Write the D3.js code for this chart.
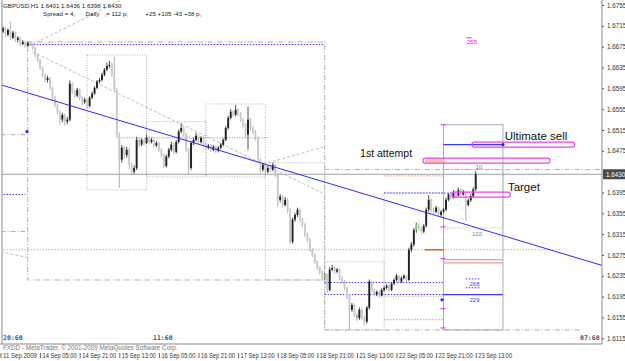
<!DOCTYPE html>
<html>
<head>
<meta charset="utf-8">
<script src="https://cdn.jsdelivr.net/npm/d3@7"></script>
<style>
  body { margin: 0; background: #ffffff; }
  svg { display: block; font-family: "Liberation Sans", Arial, sans-serif; }
</style>
</head>
<body>
<script>
// ---- chart data: GBPUSD H1, one bar per hour, 11 Sep 13:00 .. 23 Sep 13:00
let open = [1.6707,1.6704,1.6711,1.6698,1.6707,1.6692,1.6702,1.6688,1.6692,1.6680,
  1.6684,1.6677,1.6682,1.6679,1.6673,1.6659,1.6650,1.6634,1.6621,1.6611,
  1.6615,1.6596,1.6577,1.6563,1.6550,1.6535,1.6544,1.6531,1.6535,1.6604,
  1.6588,1.6581,1.6592,1.6577,1.6569,1.6573,1.6561,1.6577,1.6585,1.6596,
  1.6608,1.6611,1.6621,1.6631,1.6638,1.6640,1.6621,1.6592,1.6506,1.6458,
  1.6481,1.6467,1.6477,1.6448,1.6435,1.6442,1.6496,1.6487,1.6496,1.6490,
  1.6500,1.6492,1.6496,1.6485,1.6490,1.6477,1.6467,1.6446,1.6464,1.6477,
  1.6487,1.6473,1.6492,1.6512,1.6519,1.6506,1.6477,1.6442,1.6490,1.6496,
  1.6504,1.6492,1.6500,1.6487,1.6481,1.6485,1.6477,1.6483,1.6475,1.6481,
  1.6487,1.6496,1.6519,1.6538,1.6550,1.6544,1.6554,1.6546,1.6535,1.6525,
  1.6506,1.6535,1.6519,1.6512,1.6500,1.6458,1.6439,1.6448,1.6435,1.6442,
  1.6439,1.6448,1.6429,1.6381,1.6387,1.6371,1.6381,1.6362,1.6300,1.6343,
  1.6352,1.6362,1.6343,1.6333,1.6314,1.6304,1.6285,1.6275,1.6262,1.6250,
  1.6243,1.6231,1.6237,1.6208,1.6247,1.6250,1.6243,1.6247,1.6231,1.6224,
  1.6212,1.6197,1.6170,1.6179,1.6160,1.6154,1.6170,1.6154,1.6147,1.6174,
  1.6224,1.6208,1.6199,1.6204,1.6197,1.6208,1.6212,1.6216,1.6208,1.6220,
  1.6227,1.6235,1.6224,1.6231,1.6235,1.6227,1.6285,1.6295,1.6323,1.6333,
  1.6327,1.6320,1.6331,1.6362,1.6381,1.6362,1.6358,1.6366,1.6352,1.6358,
  1.6362,1.6381,1.6391,1.6385,1.6396,1.6389,1.6400,1.6391,1.6396,1.6371,
  1.6380,1.6388,1.6401];
let high = [1.6716,1.6714,1.6713,1.6710,1.6723,1.6705,1.6704,1.6695,1.6694,1.6688,
  1.6686,1.6685,1.6684,1.6681,1.6675,1.6662,1.6652,1.6637,1.6624,1.6619,
  1.6617,1.6598,1.6580,1.6566,1.6553,1.6548,1.6546,1.6540,1.6610,1.6607,
  1.6592,1.6596,1.6594,1.6580,1.6577,1.6575,1.6580,1.6589,1.6599,1.6611,
  1.6615,1.6625,1.6634,1.6644,1.6648,1.6645,1.6656,1.6596,1.6510,1.6486,
  1.6485,1.6483,1.6480,1.6452,1.6447,1.6502,1.6500,1.6499,1.6498,1.6506,
  1.6503,1.6500,1.6498,1.6494,1.6492,1.6480,1.6470,1.6468,1.6481,1.6492,
  1.6490,1.6496,1.6516,1.6528,1.6522,1.6509,1.6480,1.6494,1.6500,1.6510,
  1.6506,1.6503,1.6502,1.6490,1.6488,1.6487,1.6486,1.6485,1.6484,1.6490,
  1.6499,1.6522,1.6542,1.6555,1.6553,1.6563,1.6557,1.6549,1.6538,1.6528,
  1.6560,1.6538,1.6522,1.6515,1.6502,1.6461,1.6452,1.6451,1.6446,1.6448,
  1.6452,1.6450,1.6432,1.6392,1.6390,1.6386,1.6384,1.6365,1.6347,1.6356,
  1.6366,1.6364,1.6346,1.6336,1.6318,1.6307,1.6288,1.6278,1.6265,1.6253,
  1.6246,1.6240,1.6240,1.6251,1.6256,1.6253,1.6250,1.6249,1.6234,1.6227,
  1.6214,1.6200,1.6183,1.6182,1.6163,1.6174,1.6172,1.6158,1.6177,1.6228,
  1.6226,1.6211,1.6207,1.6206,1.6211,1.6215,1.6219,1.6218,1.6223,1.6230,
  1.6239,1.6237,1.6234,1.6238,1.6237,1.6289,1.6300,1.6327,1.6337,1.6336,
  1.6330,1.6334,1.6366,1.6390,1.6384,1.6366,1.6369,1.6368,1.6361,1.6365,
  1.6385,1.6394,1.6394,1.6400,1.6398,1.6404,1.6402,1.6400,1.6398,1.6383,
  1.6392,1.6405,1.6436];
let low = [1.6700,1.6701,1.6694,1.6695,1.6688,1.6690,1.6684,1.6683,1.6676,1.6678,
  1.6673,1.6675,1.6676,1.6669,1.6655,1.6646,1.6630,1.6617,1.6607,1.6606,
  1.6592,1.6572,1.6558,1.6545,1.6525,1.6530,1.6523,1.6526,1.6532,1.6584,
  1.6577,1.6578,1.6573,1.6562,1.6565,1.6556,1.6558,1.6574,1.6582,1.6593,
  1.6604,1.6608,1.6618,1.6628,1.6634,1.6617,1.6588,1.6500,1.6404,1.6452,
  1.6460,1.6462,1.6440,1.6428,1.6430,1.6438,1.6482,1.6484,1.6486,1.6488,
  1.6488,1.6489,1.6481,1.6482,1.6472,1.6462,1.6442,1.6443,1.6461,1.6474,
  1.6469,1.6470,1.6489,1.6509,1.6502,1.6472,1.6429,1.6438,1.6486,1.6493,
  1.6488,1.6489,1.6483,1.6477,1.6478,1.6473,1.6474,1.6471,1.6472,1.6478,
  1.6484,1.6494,1.6516,1.6535,1.6540,1.6541,1.6542,1.6531,1.6520,1.6500,
  1.6477,1.6514,1.6507,1.6495,1.6452,1.6433,1.6435,1.6430,1.6432,1.6434,
  1.6436,1.6425,1.6368,1.6376,1.6366,1.6368,1.6356,1.6296,1.6297,1.6339,
  1.6348,1.6339,1.6329,1.6310,1.6300,1.6281,1.6271,1.6258,1.6246,1.6238,
  1.6227,1.6228,1.6202,1.6205,1.6244,1.6239,1.6240,1.6227,1.6220,1.6208,
  1.6190,1.6131,1.6166,1.6156,1.6148,1.6150,1.6150,1.6140,1.6143,1.6170,
  1.6204,1.6195,1.6196,1.6193,1.6195,1.6205,1.6209,1.6205,1.6206,1.6217,
  1.6224,1.6221,1.6221,1.6228,1.6224,1.6225,1.6280,1.6291,1.6318,1.6322,
  1.6316,1.6317,1.6328,1.6358,1.6358,1.6354,1.6355,1.6349,1.6348,1.6355,
  1.6359,1.6378,1.6381,1.6383,1.6385,1.6387,1.6388,1.6389,1.6340,1.6368,
  1.6377,1.6385,1.6398];
let close = [1.6704,1.6711,1.6698,1.6707,1.6692,1.6702,1.6688,1.6692,1.6680,1.6684,
  1.6677,1.6682,1.6679,1.6673,1.6659,1.6650,1.6634,1.6621,1.6611,1.6615,
  1.6596,1.6577,1.6563,1.6550,1.6535,1.6544,1.6531,1.6535,1.6604,1.6588,
  1.6581,1.6592,1.6577,1.6569,1.6573,1.6561,1.6577,1.6585,1.6596,1.6608,
  1.6611,1.6621,1.6631,1.6638,1.6640,1.6621,1.6592,1.6506,1.6458,1.6481,
  1.6467,1.6477,1.6448,1.6435,1.6442,1.6496,1.6487,1.6496,1.6490,1.6500,
  1.6492,1.6496,1.6485,1.6490,1.6477,1.6467,1.6446,1.6464,1.6477,1.6487,
  1.6473,1.6492,1.6512,1.6519,1.6506,1.6477,1.6442,1.6490,1.6496,1.6504,
  1.6492,1.6500,1.6487,1.6481,1.6485,1.6477,1.6483,1.6475,1.6481,1.6487,
  1.6496,1.6519,1.6538,1.6550,1.6544,1.6554,1.6546,1.6535,1.6525,1.6506,
  1.6535,1.6519,1.6512,1.6500,1.6458,1.6439,1.6448,1.6435,1.6442,1.6439,
  1.6448,1.6429,1.6381,1.6387,1.6371,1.6381,1.6362,1.6300,1.6343,1.6352,
  1.6362,1.6343,1.6333,1.6314,1.6304,1.6285,1.6275,1.6262,1.6250,1.6243,
  1.6231,1.6237,1.6208,1.6247,1.6250,1.6243,1.6247,1.6231,1.6224,1.6212,
  1.6197,1.6170,1.6179,1.6160,1.6154,1.6170,1.6154,1.6147,1.6174,1.6224,
  1.6208,1.6199,1.6204,1.6197,1.6208,1.6212,1.6216,1.6208,1.6220,1.6227,
  1.6235,1.6224,1.6231,1.6235,1.6227,1.6285,1.6295,1.6323,1.6333,1.6327,
  1.6320,1.6331,1.6362,1.6381,1.6362,1.6358,1.6366,1.6352,1.6358,1.6362,
  1.6381,1.6391,1.6385,1.6396,1.6389,1.6400,1.6391,1.6396,1.6371,1.6380,
  1.6388,1.6401,1.6430];
let greenBars = [131, 144, 168];

// axis labels
let timeTickIdx = [0, 16, 32, 48, 64, 80, 96, 112, 128, 144, 160, 176, 192];
let timeLabels = ['11 Sep 2009', '14 Sep 05:00', '14 Sep 21:00', '15 Sep 13:00', '16 Sep 05:00',
  '16 Sep 21:00', '17 Sep 13:00', '18 Sep 05:00', '18 Sep 21:00', '21 Sep 13:00',
  '22 Sep 05:00', '22 Sep 21:00', '23 Sep 13:00'];
let priceTicks = [1.6755, 1.6715, 1.6675, 1.6635, 1.6595, 1.6555, 1.6515, 1.6475,
  1.6395, 1.6355, 1.6315, 1.6275, 1.6235, 1.6195, 1.6155, 1.6115];
let lastPrice = 1.6430;

// chart objects: [from bar, to bar, price] or [from bar, to bar, top, bottom]
let trendLine = [[0, 1.6602], [243, 1.6255]];
let weekFrame = [11, 131, 1.6684, 1.6227];
let weekFrameExt = [131, 1.6227, 1.6131];
let dayBoxes = [[35, 59, 1.6659, 1.6400], [59, 83, 1.6531, 1.6425], [83, 107, 1.6565, 1.6425],
  [107, 131, 1.6452, 1.6227], [131, 155, 1.6262, 1.6131], [155, 179, 1.6394, 1.6195],
  [179, 203, 1.6439, 1.6327]];
let todayBox = [179, 203, 1.6525, 1.6131];
let dashDotLines = [[131, 243, 1.6439], [131, 234, 1.6131], [0, 10, 1.6320], [0, 10, 1.6506]];
let pivotLines = [[48, 108, 1.6500]];
let orangeDotted = [[0, 227, 1.6285], [155, 179, 1.6151], [155, 179, 1.6427]];
let orangeSolid = [[171.5, 179, 1.6285]];
let blueDotted = [[11, 131, 1.6679], [0, 10, 1.6391], [131, 179, 1.6222], [131, 179, 1.6199],
  [155, 183, 1.6394], [188, 194, 1.6229], [188, 194, 1.6212]];
let blueSolid = [[179, 203, 1.6487], [179, 203, 1.6199]];
let redSolid = [[179, 203, 1.6266], [179, 203, 1.6260]];
let grayDiagonals = [[[11, 1.6675], [49, 1.6765]], [[13, 1.6665], [130, 1.6394]],
  [[108, 1.6452], [131, 1.6483]], [[0, 1.6281], [11, 1.6270]]];
let magentaTicks = [[179, 1.6525], [179, 1.6329], [179, 1.6268], [179, 1.6172], [179, 1.6135], [189.5, 1.6692]];
let pills = [[190.5, 232, 1.6487], [170.7, 222, 1.6456], [182.4, 206, 1.6391]];
let pillFill = [[171.5, 179.6, 1.6456]];
let notes = [['Ultimate sell', 203.7, 1.6496, 11.5], ['1st attempt', 145.3, 1.6464, 10.5], ['Target', 205, 1.6398, 11.5]];
let smallNotes = [['10', 192, 1.6440, '#808080'], ['102', 190.5, 1.6312, '#808080'],
  ['268', 189.5, 1.6216, '#4040ff'], ['229', 189.5, 1.6184, '#4040ff'], ['255', 188.5, 1.6680, '#ff00ff']];
let blueMarks = [[10.7, 1.6512], [178.4, 1.6189], [203, 1.6487]];

// ---- canvas
let width = 625;
let height = 361;
let plotRight = 602;
let plotBottom = 344;
let svg = d3.select('body').append('svg')
  .attr('width', width)
  .attr('height', height);

svg.append('defs').append('clipPath').attr('id', 'plotclip')
  .append('rect').attr('x', 2).attr('y', 0).attr('width', plotRight - 2).attr('height', plotBottom);

// ---- scales
let x = d3.scaleLinear().domain([0, 192]).range([0.5, 475.7]);
let y = d3.scaleLinear().domain([1.6115, 1.6755]).range([338.3, 5]);

let plot = svg.append('g').attr('clip-path', 'url(#plotclip)');

let hLines = (data, color, dash, w) => {
  plot.append('g').selectAll('line').data(data).join('line')
    .attr('x1', d => x(d[0])).attr('x2', d => x(d[1]))
    .attr('y1', d => y(d[2])).attr('y2', d => y(d[2]))
    .attr('stroke', color).attr('stroke-width', w || 1)
    .attr('stroke-dasharray', dash);
};
let boxes = (data, color, dash) => {
  plot.append('g').selectAll('rect').data(data).join('rect')
    .attr('x', d => x(d[0])).attr('width', d => x(d[1]) - x(d[0]))
    .attr('y', d => y(d[2])).attr('height', d => y(d[3]) - y(d[2]))
    .attr('fill', 'none').attr('stroke', color).attr('stroke-dasharray', dash);
};

// background objects
boxes(dayBoxes, '#b4b4b4', '1,1.5');
boxes([weekFrame], '#b0b0b0', '5,2,1,2');
plot.append('line')
  .attr('x1', x(weekFrameExt[0])).attr('x2', x(weekFrameExt[0]))
  .attr('y1', y(weekFrameExt[1])).attr('y2', y(weekFrameExt[2]))
  .attr('stroke', '#b0b0b0').attr('stroke-dasharray', '5,2,1,2');
hLines(dashDotLines, '#b0b0b0', '5,2,1,2');
hLines(pivotLines, '#8c8c8c', '1,1.5');
plot.append('g').selectAll('line').data(grayDiagonals).join('line')
  .attr('x1', d => x(d[0][0])).attr('y1', d => y(d[0][1]))
  .attr('x2', d => x(d[1][0])).attr('y2', d => y(d[1][1]))
  .attr('stroke', '#bcbcbc').attr('stroke-dasharray', '3,2');
hLines(orangeDotted, '#f4a77a', '1.5,1.5', 1.2);
hLines(orangeSolid, '#d85a10', null, 1.4);
hLines(blueDotted, '#3a3aff', '1.5,1.5');
hLines([[0, 243, lastPrice]], '#a0a0a0', null);

// today's box
boxes([todayBox], '#a3abc4', null);
hLines(redSolid, '#f29a9a', null, 1.2);
hLines(blueSolid, '#3a3aff', null, 1.2);

// candles
let bars = d3.range(open.length);
let cg = plot.append('g');
cg.selectAll('line').data(bars).join('line')
  .attr('x1', i => x(i)).attr('x2', i => x(i))
  .attr('y1', i => y(high[i])).attr('y2', i => y(low[i]))
  .attr('stroke', i => close[i] >= open[i] ? '#3a3a3a' : '#a9a9a9')
  .attr('stroke-width', 0.9);
cg.selectAll('rect').data(bars).join('rect')
  .attr('x', i => x(i) - 0.95).attr('width', 1.9)
  .attr('y', i => y(Math.max(open[i], close[i])))
  .attr('height', i => Math.max(1, Math.abs(y(open[i]) - y(close[i]))))
  .attr('fill', i => greenBars.includes(i) ? '#55e055'
    : close[i] >= open[i] ? '#222222' : '#cacaca');

// trend line
plot.append('line')
  .attr('x1', x(trendLine[0][0])).attr('y1', y(trendLine[0][1]))
  .attr('x2', x(trendLine[1][0])).attr('y2', y(trendLine[1][1]))
  .attr('stroke', '#2c2cff').attr('stroke-width', 1);

// pills, ticks, marks
plot.append('g').selectAll('rect').data(pillFill).join('rect')
  .attr('x', d => x(d[0])).attr('width', d => x(d[1]) - x(d[0]))
  .attr('y', d => y(d[2]) - 2).attr('height', 4)
  .attr('fill', '#f8c4a0');
plot.append('g').selectAll('rect').data(pills).join('rect')
  .attr('x', d => x(d[0])).attr('width', d => x(d[1]) - x(d[0]))
  .attr('y', d => y(d[2]) - 2.5).attr('height', 5).attr('rx', 2.5)
  .attr('fill', 'none').attr('stroke', '#f040f0').attr('stroke-width', 1.2);
plot.append('g').selectAll('line').data(magentaTicks).join('line')
  .attr('x1', d => x(d[0]) - 3).attr('x2', d => x(d[0]) + 2)
  .attr('y1', d => y(d[1])).attr('y2', d => y(d[1]))
  .attr('stroke', '#f040f0').attr('stroke-width', 1.2);
plot.append('g').selectAll('circle').data(blueMarks).join('circle')
  .attr('cx', d => x(d[0])).attr('cy', d => y(d[1])).attr('r', 1.6)
  .attr('fill', '#2020ff');

// texts on the chart
plot.append('g').selectAll('text').data(notes).join('text')
  .attr('x', d => x(d[1])).attr('y', d => y(d[2]))
  .attr('font-size', d => d[3]).attr('fill', '#111')
  .text(d => d[0]);
plot.append('g').selectAll('text').data(smallNotes).join('text')
  .attr('x', d => x(d[1])).attr('y', d => y(d[2]))
  .attr('font-size', 6).attr('fill', d => d[3])
  .text(d => d[0]);

// header texts
svg.append('text').attr('x', 3).attr('y', 8).attr('font-size', 6.2).attr('fill', '#222')
  .text('GBPUSD,H1  1.6401 1.6436 1.6398 1.6430');
svg.append('text').attr('x', 43).attr('y', 16).attr('font-size', 6.2).attr('fill', '#222')
  .attr('xml:space', 'preserve')
  .text('Spread = 4,      Daily   ,= 112 p,          +25 +105 -43 +38 p,');

// frame
svg.append('line').attr('x1', 2).attr('x2', 2).attr('y1', 0).attr('y2', plotBottom)
  .attr('stroke', '#8a8a8a');
svg.append('line').attr('x1', 0).attr('x2', plotRight).attr('y1', plotBottom).attr('y2', plotBottom)
  .attr('stroke', '#8a8a8a').attr('stroke-width', 1.2);
svg.append('line').attr('x1', plotRight).attr('x2', plotRight).attr('y1', 0).attr('y2', plotBottom)
  .attr('stroke', '#8a8a8a');

// price axis
let yAxis = d3.axisRight(y).tickValues(priceTicks).tickFormat(d3.format('.4f'))
  .tickSize(2).tickPadding(3);
let ya = svg.append('g').attr('transform', 'translate(' + plotRight + ',0)').call(yAxis);
ya.select('.domain').remove();
ya.selectAll('text').attr('font-size', 6.3).attr('fill', '#333').attr('font-family', '"Liberation Sans", Arial, sans-serif');
ya.selectAll('line').attr('stroke', '#555');
let lp = svg.append('g').attr('transform', 'translate(' + (plotRight + 1) + ',' + y(lastPrice) + ')');
lp.append('rect').attr('x', 0).attr('y', -5).attr('width', 22).attr('height', 10).attr('fill', '#4a4a4a');
lp.append('text').attr('x', 3).attr('y', 2.3).attr('font-size', 6.3).attr('fill', '#fff')
  .text(d3.format('.4f')(lastPrice));

// time axis
let xAxis = d3.axisBottom(x).tickValues(timeTickIdx)
  .tickFormat((d, i) => timeLabels[i]).tickSize(5).tickPadding(0);
let xa = svg.append('g').attr('transform', 'translate(0,' + (plotBottom + 9) + ')').call(xAxis);
xa.select('.domain').remove();
xa.selectAll('line').attr('stroke', '#666');
xa.selectAll('text').attr('text-anchor', 'start').attr('x', 2).attr('y', 0)
  .attr('dy', '0.72em').attr('font-size', 6.3).attr('fill', '#333')
  .attr('textLength', 34).attr('lengthAdjust', 'spacingAndGlyphs')
  .attr('font-family', '"Liberation Sans", Arial, sans-serif');

// footer texts
svg.append('text').attr('x', 3).attr('y', 350).attr('font-size', 6.3).attr('fill', '#777')
  .text('FXDD - MetaTrader, © 2001-2009 MetaQuotes Software Corp.');
let clock = [['20:60', 3], ['11:60', 153], ['07:60', 580]];
svg.append('g').selectAll('text').data(clock).join('text')
  .attr('x', d => d[1]).attr('y', 340)
  .attr('font-family', '"DejaVu Sans Mono", monospace').attr('font-weight', 'bold')
  .attr('font-size', 6.5).attr('fill', '#46507a')
  .text(d => d[0]);
</script>
</body>
</html>
